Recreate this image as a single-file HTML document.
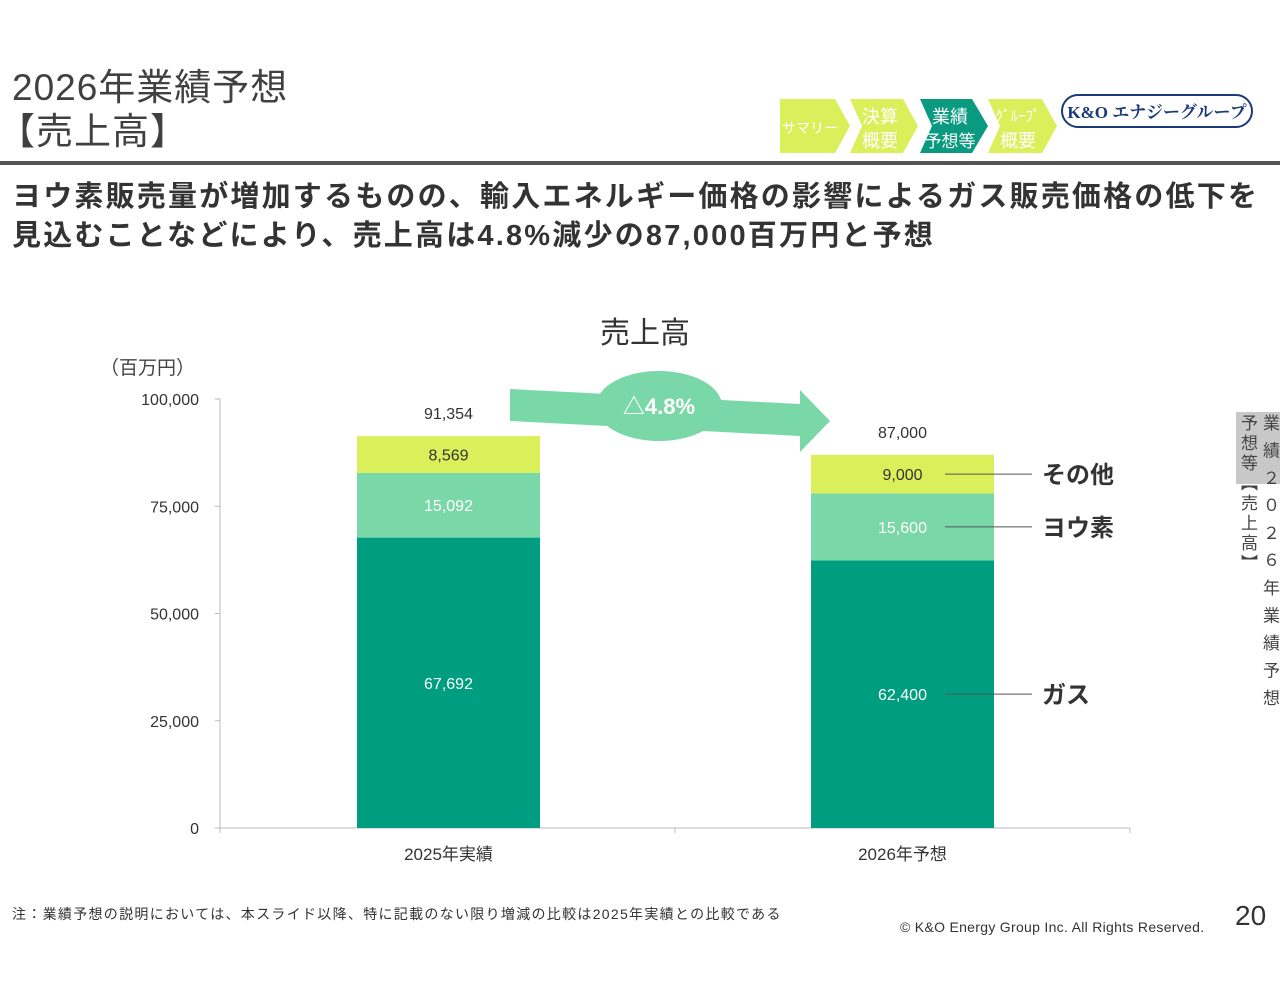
<!DOCTYPE html>
<html><head><meta charset="utf-8"><style>
body{margin:0;width:1280px;height:989px;background:#fff;font-family:"Liberation Sans","Noto Sans CJK JP",sans-serif;position:relative;overflow:hidden;color:#333}
.a{position:absolute;white-space:nowrap}
</style></head><body>
<div class="a" style="left:12px;top:66px;font-size:37px;line-height:44px;color:#404040;letter-spacing:1px">2026年業績予想<br><span style="margin-left:-14px">【売上高】</span></div>
<svg class="a" style="left:770px;top:85px" width="510" height="80">
<polygon points="10,14 65,14 80,41 65,68 10,68" fill="#d9f05a"/>
<text x="40" y="48" font-size="14" fill="#fff" text-anchor="middle">サマリー</text>
<polygon points="80,14 133,14 148,41 133,68 80,68 92,41" fill="#d9f05a"/>
<text x="110" y="38" font-size="18" fill="#fff" text-anchor="middle">決算</text><text x="110" y="62" font-size="18" fill="#fff" text-anchor="middle">概要</text>
<polygon points="150,14 202,14 218,41 202,68 150,68 162,41" fill="#0a9a80"/>
<text x="180" y="38" font-size="18" fill="#fff" text-anchor="middle">業績</text><text x="180" y="62" font-size="17" fill="#fff" text-anchor="middle">予想等</text>
<polygon points="218,14 272,14 287,41 272,68 218,68 230,41" fill="#d9f05a"/>
<text x="248" y="36" font-size="15" fill="#fff" text-anchor="middle">ｸﾞﾙｰﾌﾟ</text><text x="248" y="62" font-size="18" fill="#fff" text-anchor="middle">概要</text>
<rect x="292" y="10" width="190" height="32" rx="16" fill="none" stroke="#1a3a7a" stroke-width="2"/>
<text x="387" y="33" font-size="17" fill="#1a3a7a" text-anchor="middle" font-weight="bold" font-family="Liberation Serif,Noto Serif CJK SC,serif">K&amp;O エナジーグループ</text>
</svg>
<div class="a" style="left:0;top:161px;width:1280px;height:4px;background:#555"></div>
<div class="a" style="left:12px;top:178px;font-size:29px;line-height:39px;color:#333;letter-spacing:2.2px;font-weight:bold">ヨウ素販売量が増加するものの、輸入エネルギー価格の影響によるガス販売価格の低下を<br>見込むことなどにより、売上高は4.8%減少の87,000百万円と予想</div>
<div class="a" style="left:1236px;top:412px;width:44px;height:300px;font-size:17px;color:#444">
<div style="position:absolute;left:0;top:0;width:44px;height:72px;background:#c8c8c8"></div>
<div style="position:absolute;left:22px;top:2px;writing-mode:vertical-rl;line-height:22px;letter-spacing:10.5px">業績２０２６年業績予想</div>
<div style="position:absolute;left:0;top:2px;writing-mode:vertical-rl;line-height:22px;letter-spacing:3px">予想等【売上高】</div>
</div>
<div class="a" style="left:600px;top:308px;font-size:30px;color:#333">売上高</div>
<div class="a" style="left:100px;top:353px;font-size:19px;color:#444">（百万円）</div>
<svg id="c" class="a" style="left:0;top:0" width="1280" height="989"></svg>
<div class="a" style="left:12px;top:904px;font-size:14px;color:#333;letter-spacing:1.3px">注：業績予想の説明においては、本スライド以降、特に記載のない限り増減の比較は2025年実績との比較である</div>
<div class="a" style="left:900px;top:919px;font-size:14px;color:#333;letter-spacing:0.3px">© K&amp;O Energy Group Inc. All Rights Reserved.</div>
<div class="a" style="left:1235px;top:900px;font-size:28px;color:#333">20</div>
<script>
const categories=["2025年実績","2026年予想"];
const gas=[67692,62400];
const iodine=[15092,15600];
const other=[8569,9000];
const totals=[91354,87000];
const yTicks=[0,25000,50000,75000,100000];
const seriesNames=["ガス","ヨウ素","その他"];
const NS="http://www.w3.org/2000/svg",svg=document.getElementById('c');
const y0=828,yTop=399,yMax=100000;
const y=v=>y0-(v/yMax)*(y0-yTop);
const bx=i=>357+i*454, bw=183;
function el(t,a,txt){const e=document.createElementNS(NS,t);for(const k in a)e.setAttribute(k,a[k]);if(txt!==undefined)e.textContent=txt;svg.appendChild(e);return e;}
const fmt=v=>v.toLocaleString('en-US');
let ax=el('line',{x1:220,y1:yTop,x2:220,y2:y0,stroke:'#bbb'});

let xa=el('line',{x1:220,y1:y0,x2:1130,y2:y0,stroke:'#bbb'});

[220,675,1130].forEach(x=>el('line',{x1:x,y1:y0,x2:x,y2:y0+5,stroke:'#bbb'}));
yTicks.forEach(t=>{const e=el('text',{x:199,y:y(t)+6,'font-size':16,'text-anchor':'end',fill:'#333'},fmt(t));
el('line',{x1:215,y1:y(t),x2:220,y2:y(t),stroke:'#bbb'});});
const cols=['#009e80','#7ad8a8','#d9f05a'];
categories.forEach((c,i)=>{
 const vals=[gas[i],iodine[i],other[i]];let acc=0;
 vals.forEach((v,s)=>{const r=el('rect',{x:bx(i),y:y(acc+v),width:bw,height:y(acc)-y(acc+v),fill:cols[s]});
 
 const t=el('text',{x:bx(i)+bw/2,y:y(acc+v/2)+6,'font-size':16,'text-anchor':'middle',fill:s==2?'#333':'#fff'},fmt(v));
 acc+=v;});
 const tt=el('text',{x:bx(i)+bw/2,y:y(totals[i])-17,'font-size':16,'text-anchor':'middle',fill:'#333'},fmt(totals[i]));
 
 const cl=el('text',{x:bx(i)+bw/2,y:860,'font-size':17,'text-anchor':'middle',fill:'#333'},c);
 
});
const li=1;let acc=0;const mids=[];[gas[li],iodine[li],other[li]].forEach(v=>{mids.push(y(acc+v/2));acc+=v;});
mids.forEach((m,s)=>{el('line',{x1:945,y1:m,x2:1032,y2:m,stroke:'#555'});
 const t=el('text',{x:1042,y:m+9,'font-size':24,'font-weight':'bold',fill:'#333'},seriesNames[s]);
 });
const ar=el('polygon',{points:'510,389 800,404 800,390 830,421 800,452 800,436 510,421',fill:'#7ad8a8'});

el('ellipse',{cx:659,cy:406,rx:63,ry:35,fill:'#7ad8a8'});
const ct=el('text',{x:659,y:414,'font-size':22,'font-weight':'bold','text-anchor':'middle',fill:'#fff'},'△4.8%');

</script>
</body></html>
